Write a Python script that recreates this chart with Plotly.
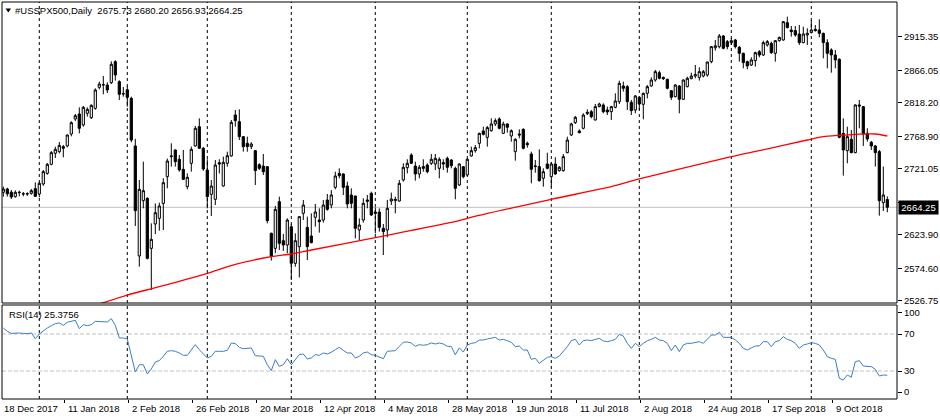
import plotly.graph_objects as go

# ---------------- data ----------------
symbol_title = "#USSPX500,Daily"
last_ohlc = ["2675.73", "2680.20", "2656.93", "2664.25"]
rsi_title = "RSI(14) 25.3756"
last_price = 2664.25

opens = [2686.3, 2691.2, 2686.5, 2679.9, 2685.8, 2684.3, 2683.8, 2684.8, 2691.7, 2683.8,
         2698.5, 2714.2, 2727.5, 2743.7, 2746.1, 2753.5, 2754.5, 2772.1, 2794.2, 2801.6,
         2785.4, 2802.6, 2796.2, 2809.9, 2840.8, 2844.2, 2844.2, 2847.7, 2878.6, 2849.2,
         2831.0, 2837.3, 2824.6, 2754.5, 2592.6, 2674.0, 2677.4, 2603.8, 2639.7, 2648.0,
         2670.0, 2709.3, 2738.8, 2748.6, 2734.9, 2720.1, 2694.6, 2729.0, 2754.5, 2782.9,
         2751.0, 2719.1, 2683.3, 2676.0, 2729.9, 2695.6, 2729.0, 2739.8, 2800.1, 2790.3,
         2768.2, 2758.4, 2753.5, 2747.6, 2727.0, 2725.0, 2724.1, 2625.9, 2603.8, 2672.5,
         2615.1, 2608.7, 2635.7, 2581.8, 2606.3, 2655.4, 2634.7, 2622.0, 2649.5, 2645.5,
         2645.5, 2675.0, 2667.6, 2693.6, 2714.2, 2713.3, 2695.6, 2682.4, 2680.9, 2630.8,
         2645.5, 2675.0, 2684.8, 2657.3, 2657.3, 2633.3, 2630.8, 2673.5, 2674.0, 2673.5,
         2704.4, 2722.6, 2741.2, 2725.0, 2713.3, 2724.1, 2726.5, 2729.0, 2728.0, 2721.6,
         2730.0, 2736.3, 2733.9, 2721.6, 2697.1, 2724.1, 2711.8, 2739.8, 2747.6, 2758.4,
         2776.6, 2767.2, 2777.0, 2786.9, 2794.2, 2773.1, 2786.9, 2769.2, 2746.1, 2772.1,
         2779.0, 2758.4, 2742.7, 2724.1, 2724.1, 2706.9, 2728.0, 2709.3, 2728.0, 2718.2,
         2718.2, 2744.7, 2770.7, 2788.8, 2776.6, 2780.5, 2802.1, 2805.0, 2792.8, 2812.4,
         2814.8, 2807.5, 2805.0, 2811.4, 2819.7, 2842.8, 2841.8, 2818.8, 2807.5, 2826.1,
         2815.8, 2832.0, 2842.8, 2851.6, 2862.4, 2855.5, 2852.6, 2835.9, 2827.1, 2842.8,
         2823.2, 2841.8, 2853.6, 2857.5, 2855.5, 2857.5, 2859.0, 2878.6, 2899.0, 2900.7,
         2916.4, 2908.1, 2906.6, 2910.5, 2899.7, 2890.9, 2878.6, 2873.7, 2880.1, 2893.3,
         2888.4, 2903.2, 2905.6, 2890.9, 2909.5, 2910.5, 2936.0, 2925.2, 2924.3, 2919.3,
         2906.6, 2917.9, 2921.3, 2926.2, 2925.3, 2920.3, 2906.6, 2895.8, 2888.5, 2882.1,
         2773.1, 2747.6, 2764.3, 2744.7, 2814.9, 2812.4, 2773.1, 2759.9, 2754.5, 2746.2,
         2671.1, 2675.73]
highs = [2694.6, 2693.0, 2689.7, 2689.2, 2688.7, 2686.8, 2686.3, 2691.2, 2700.9, 2702.0,
         2719.1, 2729.5, 2747.1, 2753.5, 2760.4, 2756.0, 2771.6, 2790.8, 2801.6, 2811.4,
         2813.3, 2811.4, 2815.8, 2839.4, 2849.2, 2857.5, 2848.2, 2879.1, 2880.6, 2851.2,
         2841.3, 2842.3, 2827.1, 2765.0, 2704.4, 2731.4, 2679.0, 2640.6, 2670.0, 2671.0,
         2706.9, 2736.0, 2758.4, 2749.6, 2741.2, 2748.6, 2714.2, 2753.5, 2783.9, 2795.2,
         2753.0, 2734.9, 2704.4, 2733.9, 2734.9, 2738.8, 2746.1, 2792.8, 2807.5, 2808.4,
         2769.0, 2768.2, 2760.0, 2748.6, 2729.0, 2742.7, 2724.5, 2626.9, 2666.2, 2679.9,
         2625.0, 2648.0, 2639.7, 2625.9, 2651.0, 2675.0, 2650.5, 2655.4, 2669.1, 2662.7,
         2675.0, 2683.8, 2689.7, 2716.7, 2721.6, 2714.2, 2702.0, 2692.2, 2681.0, 2648.0,
         2677.4, 2682.4, 2687.2, 2664.2, 2662.7, 2639.7, 2675.0, 2685.8, 2679.9, 2704.4,
         2729.0, 2734.9, 2743.7, 2731.4, 2726.5, 2734.9, 2729.0, 2742.7, 2742.7, 2737.8,
         2734.9, 2738.8, 2734.9, 2724.1, 2729.0, 2724.5, 2736.3, 2753.5, 2755.9, 2774.1,
         2783.0, 2783.9, 2795.2, 2795.2, 2796.7, 2790.3, 2787.8, 2779.0, 2765.8, 2779.0,
         2780.5, 2761.0, 2746.1, 2733.9, 2749.6, 2721.6, 2744.6, 2731.0, 2738.0, 2725.0,
         2742.7, 2768.2, 2788.8, 2798.7, 2779.0, 2802.6, 2808.4, 2807.5, 2816.3, 2818.2,
         2817.3, 2812.4, 2813.4, 2832.0, 2850.6, 2849.2, 2844.2, 2822.2, 2829.5, 2827.1,
         2833.0, 2844.2, 2855.5, 2866.4, 2865.4, 2856.5, 2853.6, 2836.9, 2845.7, 2844.2,
         2852.6, 2856.5, 2862.4, 2873.7, 2870.3, 2866.4, 2878.6, 2901.7, 2910.5, 2919.3,
         2917.9, 2910.5, 2913.0, 2912.0, 2901.7, 2891.8, 2880.1, 2885.0, 2893.3, 2895.8,
         2909.5, 2910.5, 2908.1, 2910.5, 2915.4, 2938.5, 2944.9, 2931.1, 2931.1, 2932.6,
         2930.1, 2927.7, 2940.0, 2932.6, 2941.0, 2921.3, 2911.5, 2898.3, 2895.8, 2883.5,
         2795.2, 2782.9, 2778.0, 2815.8, 2822.2, 2813.4, 2780.5, 2761.9, 2756.0, 2748.6,
         2724.1, 2680.20]
lows = [2679.9, 2680.0, 2676.4, 2678.5, 2680.4, 2680.4, 2680.9, 2682.8, 2679.4, 2679.0,
        2696.0, 2712.2, 2726.1, 2736.8, 2743.7, 2737.8, 2752.5, 2768.7, 2791.3, 2773.1,
        2782.9, 2797.7, 2794.2, 2807.9, 2837.9, 2830.5, 2832.5, 2845.7, 2850.7, 2822.2,
        2827.1, 2812.4, 2760.0, 2636.7, 2576.8, 2662.7, 2587.6, 2542.5, 2624.9, 2629.8,
        2630.8, 2692.2, 2724.1, 2724.1, 2716.7, 2704.4, 2690.7, 2716.7, 2753.5, 2750.1,
        2718.0, 2662.7, 2651.4, 2667.6, 2714.2, 2694.6, 2724.1, 2738.8, 2782.9, 2763.3,
        2746.1, 2746.1, 2750.0, 2697.1, 2719.1, 2711.8, 2640.6, 2585.7, 2596.5, 2601.4,
        2600.0, 2596.5, 2557.2, 2576.8, 2561.1, 2645.5, 2586.7, 2611.2, 2635.7, 2626.9,
        2641.6, 2659.3, 2662.7, 2690.7, 2706.9, 2682.4, 2662.7, 2662.7, 2618.5, 2616.1,
        2641.6, 2662.7, 2651.4, 2625.9, 2628.4, 2594.0, 2620.0, 2667.6, 2655.4, 2672.5,
        2702.0, 2714.2, 2728.0, 2703.4, 2706.9, 2716.7, 2714.2, 2726.5, 2719.1, 2706.9,
        2719.1, 2715.2, 2721.6, 2676.0, 2695.6, 2706.9, 2710.3, 2738.8, 2744.7, 2751.0,
        2770.0, 2753.5, 2775.5, 2783.9, 2779.0, 2772.1, 2774.1, 2760.8, 2732.9, 2765.8,
        2749.6, 2752.0, 2699.5, 2715.2, 2702.0, 2694.6, 2720.1, 2693.6, 2711.8, 2716.7,
        2716.7, 2743.7, 2769.2, 2786.9, 2773.1, 2779.0, 2800.0, 2795.2, 2791.8, 2811.4,
        2802.6, 2800.1, 2792.8, 2809.9, 2816.3, 2834.5, 2807.5, 2800.1, 2802.6, 2807.5,
        2793.7, 2824.6, 2841.8, 2849.2, 2852.6, 2851.6, 2837.9, 2822.2, 2826.1, 2802.6,
        2822.2, 2840.8, 2852.6, 2854.1, 2850.7, 2855.5, 2856.5, 2876.2, 2894.8, 2898.2,
        2896.8, 2896.8, 2903.2, 2898.0, 2878.6, 2868.8, 2867.4, 2872.2, 2871.3, 2885.0,
        2887.0, 2900.7, 2889.9, 2878.6, 2908.1, 2909.5, 2927.7, 2915.4, 2915.4, 2903.2,
        2905.6, 2903.2, 2920.3, 2922.8, 2914.5, 2883.5, 2868.8, 2862.4, 2868.8, 2765.8,
        2710.8, 2729.0, 2743.7, 2743.7, 2780.5, 2754.5, 2760.9, 2748.6, 2724.1, 2651.9,
        2658.8, 2656.93]
closes = [2691.2, 2684.0, 2679.4, 2686.3, 2686.3, 2683.8, 2684.3, 2688.7, 2680.4, 2699.5,
          2716.7, 2727.5, 2744.7, 2749.6, 2755.4, 2751.1, 2770.7, 2788.8, 2799.1, 2780.5,
          2811.4, 2808.4, 2814.3, 2836.9, 2845.7, 2844.7, 2836.9, 2874.7, 2859.0, 2830.5,
          2831.5, 2826.1, 2763.3, 2659.3, 2690.7, 2688.7, 2589.1, 2617.1, 2656.3, 2666.2,
          2700.5, 2732.4, 2739.8, 2731.4, 2719.2, 2705.4, 2708.4, 2749.6, 2780.5, 2751.0,
          2720.6, 2679.9, 2695.6, 2726.5, 2728.0, 2730.4, 2740.2, 2789.3, 2791.8, 2768.2,
          2753.5, 2753.5, 2757.4, 2718.2, 2721.6, 2716.7, 2644.6, 2591.6, 2661.2, 2611.2,
          2608.7, 2645.5, 2581.8, 2615.1, 2650.5, 2667.6, 2606.3, 2612.2, 2657.3, 2643.1,
          2667.6, 2661.2, 2682.4, 2710.3, 2710.8, 2693.6, 2669.1, 2670.1, 2633.3, 2638.2,
          2670.1, 2673.0, 2652.9, 2655.4, 2634.7, 2628.4, 2662.7, 2676.4, 2676.0, 2699.5,
          2723.1, 2729.0, 2729.0, 2713.3, 2723.1, 2721.6, 2716.7, 2734.9, 2736.3, 2734.9,
          2728.0, 2723.1, 2725.5, 2692.2, 2728.0, 2709.3, 2734.9, 2747.6, 2752.0, 2773.1,
          2771.6, 2781.5, 2786.9, 2791.8, 2780.5, 2786.9, 2782.0, 2777.0, 2764.3, 2770.7,
          2751.0, 2756.4, 2720.1, 2725.0, 2703.4, 2716.7, 2721.6, 2728.0, 2713.3, 2723.1,
          2738.8, 2763.3, 2786.9, 2796.7, 2774.1, 2800.1, 2804.0, 2797.7, 2812.4, 2816.3,
          2805.0, 2804.5, 2812.4, 2820.7, 2846.7, 2839.4, 2819.7, 2806.5, 2828.1, 2816.3,
          2832.0, 2841.8, 2851.6, 2863.9, 2854.1, 2853.6, 2839.4, 2826.1, 2844.2, 2823.2,
          2851.6, 2854.1, 2857.5, 2859.5, 2863.9, 2863.9, 2878.1, 2900.7, 2902.0, 2916.4,
          2898.2, 2900.7, 2909.5, 2900.7, 2890.9, 2877.2, 2872.2, 2881.1, 2891.9, 2888.4,
          2906.6, 2908.1, 2891.9, 2909.5, 2914.4, 2937.5, 2928.7, 2922.8, 2917.9, 2906.6,
          2919.3, 2920.3, 2925.3, 2924.3, 2920.3, 2906.6, 2890.9, 2888.5, 2881.1, 2767.3,
          2748.6, 2768.2, 2744.7, 2814.9, 2813.4, 2772.2, 2764.8, 2754.5, 2744.7, 2674.0,
          2682.4, 2664.25]

rsi = [76.5, 72.9, 70.7, 71.1, 71.1, 70.7, 70.4, 71.1, 65.0, 70.0,
       73.6, 76.5, 79.0, 81.2, 81.9, 79.4, 82.6, 83.7, 84.8, 75.8,
       80.1, 79.0, 80.1, 83.7, 83.7, 83.7, 83.0, 86.6, 79.4, 65.7,
       65.7, 64.6, 47.7, 28.9, 36.8, 36.8, 26.8, 32.2, 39.7, 41.2,
       45.9, 51.3, 52.0, 51.3, 49.5, 46.9, 46.9, 53.1, 58.5, 53.1,
       48.4, 44.1, 45.9, 51.3, 51.3, 51.3, 52.3, 60.3, 59.6, 55.6,
       54.1, 54.1, 54.9, 46.6, 46.6, 45.9, 36.8, 30.4, 42.3, 35.0,
       36.8, 43.3, 36.8, 42.3, 47.7, 48.4, 43.0, 44.1, 47.7, 46.9,
       49.5, 48.4, 50.2, 53.1, 55.6, 52.3, 49.5, 49.5, 44.1, 45.9,
       49.5, 50.5, 47.7, 46.9, 44.8, 43.3, 51.3, 52.0, 52.0, 56.7,
       61.0, 61.4, 60.3, 56.7, 58.5, 57.8, 58.5, 60.3, 59.2, 60.3,
       59.2, 56.7, 56.5, 47.5, 55.0, 50.5, 58.1, 59.9, 60.6, 63.5,
       63.5, 64.6, 65.3, 66.4, 63.5, 64.2, 62.8, 61.0, 56.3, 57.0,
       52.7, 52.7, 42.6, 43.7, 38.3, 41.9, 44.8, 45.5, 43.7, 46.2,
       50.9, 56.3, 62.8, 64.2, 58.1, 62.8, 63.5, 62.8, 64.2, 65.3,
       62.5, 61.7, 62.8, 64.2, 69.6, 67.8, 59.9, 54.5, 59.9, 56.3,
       59.9, 62.8, 64.2, 66.4, 63.5, 62.8, 59.9, 52.0, 58.1, 50.9,
       58.1, 59.9, 59.9, 60.6, 61.7, 59.9, 64.2, 68.9, 68.9, 71.8,
       66.4, 66.4, 66.4, 63.5, 59.9, 54.5, 52.7, 55.0, 57.0, 57.2,
       61.7, 61.7, 56.3, 61.7, 62.8, 67.1, 64.2, 62.8, 59.9, 54.5,
       58.1, 59.2, 60.6, 59.9, 58.1, 52.7, 45.5, 43.7, 42.6, 22.1,
       20.3, 25.7, 23.2, 40.1, 41.2, 35.4, 34.7, 34.7, 31.8, 24.6,
       25.7, 25.38]

# moving average (red line) read at these bar numbers
ma_bar = [24, 31, 39, 51, 58, 67, 72, 77, 93, 114, 116, 137, 152, 159, 182, 189,
          201, 205, 209, 213, 218, 221]
ma_val = [2522.0, 2535.1, 2547.4, 2567.1, 2580.3, 2591.5, 2595.5, 2601.4, 2619.5,
          2644.5, 2648.0, 2676.0, 2694.6, 2705.9, 2738.7, 2747.6, 2763.3, 2768.2,
          2770.2, 2771.7, 2772.1, 2769.2]

# first bars of each month (dashed separators)
month_bar = [9, 31, 51, 72, 93, 116, 137, 159, 182, 202]
# x-axis date labels
date_bar = [0, 16, 32, 48, 64, 80, 96, 112, 128, 144, 160, 176, 192, 208]
date_text = ["18 Dec 2017", "11 Jan 2018", "2 Feb 2018", "26 Feb 2018", "20 Mar 2018",
             "12 Apr 2018", "4 May 2018", "28 May 2018", "19 Jun 2018", "11 Jul 2018",
             "2 Aug 2018", "24 Aug 2018", "17 Sep 2018", "9 Oct 2018"]
price_ticks = [2915.35, 2866.05, 2818.20, 2768.90, 2721.05, 2671.35, 2623.90, 2574.60, 2526.75]
hidden_tick = 2671.35   # covered by the last-price box in the reference
rsi_levels = [70, 30]
rsi_tick_text = ["100", "70", "30", "0"]

# ---------------- layout geometry ----------------
W, H = 940, 420
ML, MR, MT, MB = 2, 43, 2, 21
PW, PH = W - ML - MR, H - MT - MB
FONT = "Liberation Sans, Arial, sans-serif"
FS = 9.5


def fx(px):
    return (px - ML) / PW


def fy(py):
    return (H - MB - py) / PH


bars = list(range(len(closes)))
main_dom = [fy(303), 1.0]
rsi_dom = [0.0, fy(305)]

fig = go.Figure()
fig.add_trace(go.Candlestick(
    x=bars, open=opens, high=highs, low=lows, close=closes,
    increasing=dict(line=dict(color="black", width=1), fillcolor="white"),
    decreasing=dict(line=dict(color="black", width=1), fillcolor="black"),
    whiskerwidth=0, showlegend=False, hoverinfo="skip", xaxis="x", yaxis="y"))
fig.add_trace(go.Scatter(x=ma_bar, y=ma_val, mode="lines",
                         line=dict(color="#FF0000", width=1.3, shape="spline", smoothing=0.6),
                         showlegend=False, hoverinfo="skip", xaxis="x", yaxis="y"))
fig.add_trace(go.Scatter(x=bars, y=rsi, mode="lines",
                         line=dict(color="#3D7EBF", width=1),
                         showlegend=False, hoverinfo="skip", xaxis="x2", yaxis="y2"))

xr = [(ML - 3.3) / 4, (W - MR - 3.3) / 4]
k = 1.47197
yr = [2526.75 - (303 - 300.7) * k, 2526.75 + (300.7 - 2) * k]
rr = [30 - (399 - 371) / 0.925, 70 + (334 - 305) / 0.925]
rsi_tick_pos = [70 + (334 - 312.5) / 0.925, 70, 30, 30 - (392 - 371) / 0.925]

shapes = []
for b in month_bar:
    shapes.append(dict(type="line", xref="x", yref="paper", x0=b, x1=b, y0=0, y1=1,
                       line=dict(color="black", width=1, dash="3px,3px"), layer="below"))
shapes.append(dict(type="line", xref="paper", yref="y", x0=0, x1=1, y0=last_price,
                   y1=last_price, line=dict(color="#C0C0C0", width=1), layer="below"))
for lv in rsi_levels:
    shapes.append(dict(type="line", xref="paper", yref="y2", x0=0, x1=1, y0=lv, y1=lv,
                       line=dict(color="#C0C0C0", width=1, dash="4px,2px"), layer="below"))
shapes.append(dict(type="rect", xref="paper", yref="paper", x0=0, x1=1,
                   y0=main_dom[0], y1=main_dom[1], line=dict(color="black", width=1)))
shapes.append(dict(type="rect", xref="paper", yref="paper", x0=0, x1=1,
                   y0=rsi_dom[0], y1=rsi_dom[1], line=dict(color="black", width=1)))
# small down triangle of the title
shapes.append(dict(type="path", xref="paper", yref="paper",
                   path=f"M {fx(5.5)} {fy(8.5)} L {fx(11)} {fy(8.5)} L {fx(8.25)} {fy(12.5)} Z",
                   fillcolor="black", line=dict(color="black", width=0)))

ann = []
ann.append(dict(text=symbol_title + "\u00a0\u00a0" + " ".join(last_ohlc),
                xref="paper", yref="paper", x=fx(13), y=fy(10.5), xanchor="left",
                yanchor="middle", showarrow=False, font=dict(family=FONT, size=FS, color="black")))
ann.append(dict(text=rsi_title, xref="paper", yref="paper", x=fx(6.5), y=fy(314.5),
                xanchor="left", yanchor="middle", showarrow=False,
                font=dict(family=FONT, size=FS, color="black")))
for b, t in zip(date_bar, date_text):
    ann.append(dict(text=t, xref="x2", yref="paper", x=b, y=fy(409), xanchor="left",
                    yanchor="middle", xshift=-1, showarrow=False,
                    font=dict(family=FONT, size=FS, color="black")))
ann.append(dict(text=f"{last_price:.2f}", xref="paper", yref="y", x=fx(898), y=last_price,
                xanchor="left", yanchor="middle", showarrow=False, bgcolor="black",
                borderpad=1, width=37, font=dict(family=FONT, size=FS, color="white")))

price_labels = ["" if v == hidden_tick else f"{v:.2f}" for v in price_ticks]

fig.update_layout(
    width=W, height=H, margin=dict(l=ML, r=MR, t=MT, b=MB),
    paper_bgcolor="white", plot_bgcolor="white",
    boxgap=0.45, boxgroupgap=0,
    shapes=shapes, annotations=ann, showlegend=False,
    xaxis=dict(domain=[0, 1], range=xr, anchor="y", showgrid=False, zeroline=False,
               showticklabels=False, ticks="", rangeslider=dict(visible=False),
               showline=False),
    xaxis2=dict(domain=[0, 1], range=xr, anchor="y2", matches="x", showgrid=False,
                zeroline=False, showticklabels=False, ticks="outside", ticklen=3,
                tickcolor="black", tickvals=[b - 0.6 for b in date_bar], showline=False),
    yaxis=dict(domain=main_dom, range=yr, side="right", anchor="x", showgrid=False,
               zeroline=False, tickvals=price_ticks, ticktext=price_labels,
               ticks="outside", ticklen=4, tickcolor="black",
               tickfont=dict(family=FONT, size=FS, color="black"), showline=False),
    yaxis2=dict(domain=rsi_dom, range=rr, side="right", anchor="x2", showgrid=False,
                zeroline=False, tickvals=rsi_tick_pos, ticktext=rsi_tick_text,
                ticks="outside", ticklen=4, tickcolor="black",
                tickfont=dict(family=FONT, size=FS, color="black"), showline=False),
)

fig.write_html("out.html")
